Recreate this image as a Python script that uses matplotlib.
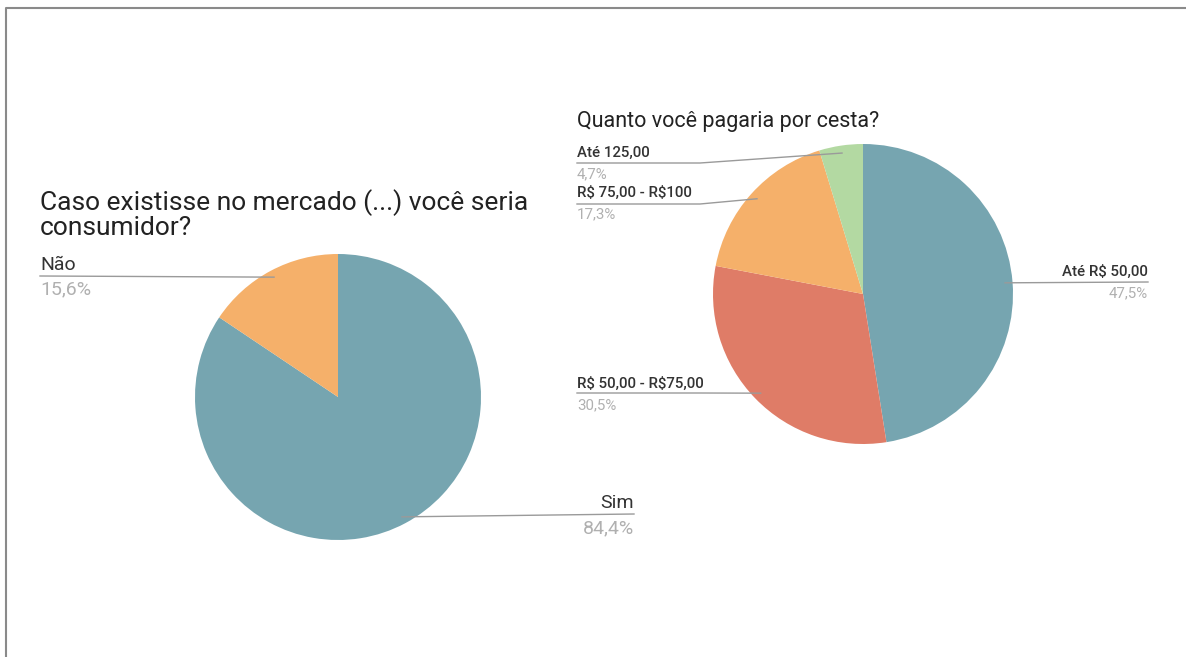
import numpy as np
import matplotlib.pyplot as plt

plt.rcParams['font.family'] = ['Roboto', 'DejaVu Sans']
plt.rcParams['text.parse_math'] = False

# Left chart: "Caso existisse no mercado (...) você seria consumidor?"
left_labels = ['Sim', 'Não']
left_values = [84.4, 15.6]
left_pcts = ['84,4%', '15,6%']
left_colors = ['#76a5b0', '#f5b06a']

# Right chart: "Quanto você pagaria por cesta?"
right_labels = ['Até R$ 50,00', 'R$ 50,00 - R$75,00', 'R$ 75,00 - R$100', 'Até 125,00']
right_values = [47.5, 30.5, 17.3, 4.7]
right_pcts = ['47,5%', '30,5%', '17,3%', '4,7%']
right_colors = ['#76a5b0', '#df7c67', '#f5b06a', '#b3d9a2']

W, H = 1186, 657
fig = plt.figure(figsize=(W / 100, H / 100), dpi=100)
ax = fig.add_axes([0, 0, 1, 1])


def py(y):
    # pixel row (top-down) -> axis y (bottom-up)
    return H - y


def anchors(values, center, radius, frac=0.95):
    # point inside each wedge, along its middle angle (clockwise from 12 o'clock)
    pts = []
    start = 90.0
    total = sum(values)
    for v in values:
        span = 360.0 * v / total
        mid = np.deg2rad(start - span / 2)
        pts.append((center[0] + frac * radius * np.cos(mid),
                    center[1] + frac * radius * np.sin(mid)))
        start -= span
    return pts


# pies
lc, lr = (338, py(397)), 143
rc, rr = (863, py(294)), 150
ax.pie(left_values, colors=left_colors, startangle=90, counterclock=False,
       center=lc, radius=lr, wedgeprops=dict(linewidth=0))
ax.pie(right_values, colors=right_colors, startangle=90, counterclock=False,
       center=rc, radius=rr, wedgeprops=dict(linewidth=0))
ax.set_xlim(0, W)
ax.set_ylim(0, H)
ax.set_aspect('auto')
ax.axis('off')

# frame of the screenshot (top and left edges)
ax.plot([6, 6, W], [0, py(8), py(8)], color='#8a8a8a', lw=1.5, clip_on=False)

line_col = '#9a9a9a'
lab_col = '#333333'
pct_col = '#b0b0b0'

# left titles and labels
ax.text(40, py(210), 'Caso existisse no mercado (...) você seria', fontsize=19,
        color='#222222', va='baseline')
ax.text(40, py(235), 'consumidor?', fontsize=19, color='#222222', va='baseline')

la = anchors(left_values, lc, lr)
# Sim (right side)
ax.text(634, py(508), left_labels[0], fontsize=14, color=lab_col, ha='right', va='baseline')
ax.text(634, py(533), left_pcts[0], fontsize=14, color=pct_col, ha='right', va='baseline')
ax.plot([la[0][0], 634], [la[0][1], py(514)], color=line_col, lw=1)
# Não (left side)
ax.text(40, py(270), left_labels[1], fontsize=14, color=lab_col, va='baseline')
ax.text(40, py(294), left_pcts[1], fontsize=14, color=pct_col, va='baseline')
ax.plot([40, la[1][0]], [py(276), la[1][1]], color=line_col, lw=1)

# right title and labels
ax.text(577, py(127), 'Quanto você pagaria por cesta?', fontsize=15.5,
        color='#222222', va='baseline')

ra = anchors(right_values, rc, rr)
# Até R$ 50,00 (right side)
ax.text(1148, py(276), right_labels[0], fontsize=10.8, color=lab_col, weight='medium',
        ha='right', va='baseline')
ax.text(1148, py(297), right_pcts[0], fontsize=10.8, color=pct_col, ha='right', va='baseline')
ax.plot([ra[0][0], 1148], [ra[0][1], py(282)], color=line_col, lw=1)

# left-side labels: baseline of label, leader line row
left_rows = {1: (388, 393), 2: (197, 204), 3: (157, 163)}
for i, (yb, yl) in left_rows.items():
    ax.text(577, py(yb), right_labels[i], fontsize=10.8, color=lab_col, weight='medium',
            va='baseline')
    ax.text(577, py(yb + 21), right_pcts[i], fontsize=10.8, color=pct_col, va='baseline')
    bend = min(700, ra[i][0])
    ax.plot([577, bend, ra[i][0]], [py(yl), py(yl), ra[i][1]], color=line_col, lw=1)

fig.savefig('out.png', dpi=100, facecolor='white')
